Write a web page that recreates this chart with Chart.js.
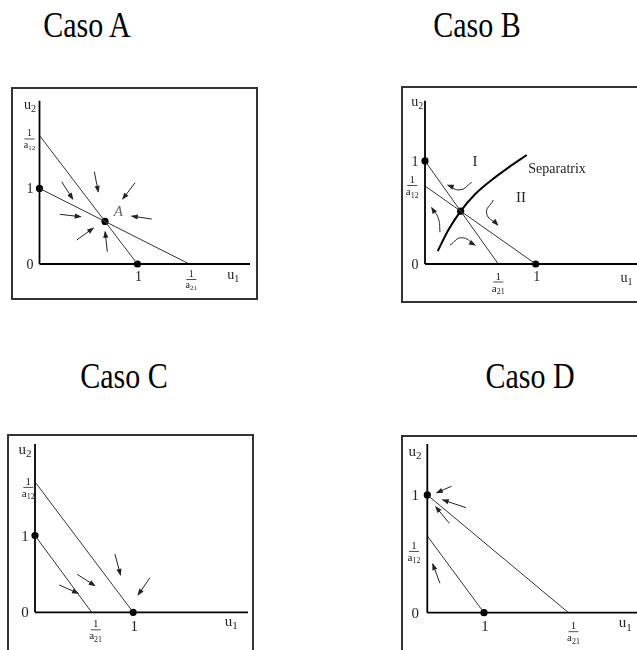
<!DOCTYPE html>
<html lang="es">
<head>
<meta charset="UTF-8" />
<title>Casos A - D</title>
<script src="https://cdn.jsdelivr.net/npm/chart.js"></script>
<style>
    html, body {
        margin: 0;
        padding: 0;
        background: #fff;
    }
    body {
        position: relative;
        width: 637px;
        height: 650px;
        overflow: hidden;
        font-family: 'Liberation Serif', 'Times New Roman', serif;
        color: #000;
    }
    .title {
        position: absolute;
        font-size: 30px;
        white-space: nowrap;
        transform: translate(-50%, -50%) scaleY(1.2);
    }
    canvas {
        position: absolute;
    }
</style>
</head>
<body>
<div class="title" style="left:87px;top:25px">Caso A</div>
<div class="title" style="left:477px;top:25px">Caso B</div>
<div class="title" style="left:124px;top:376px">Caso C</div>
<div class="title" style="left:530px;top:376px">Caso D</div>

<canvas id="caseA" width="247" height="213" style="left:11px;top:87px"></canvas>
<canvas id="caseB" width="260" height="217" style="left:401px;top:86px"></canvas>
<canvas id="caseC" width="247" height="230" style="left:7px;top:434px"></canvas>
<canvas id="caseD" width="260" height="230" style="left:401px;top:435px"></canvas>

<script>
// tick texts, same for every case
const xTickText = ['1', '1/a21'];
const yTickText = ['0', '1', '1/a12'];

// Caso A - stable coexistence
const aXTicks = [1, 1.53];
const aYTicks = [0, 1, 1.70];
const aRange = [2.15, 2.16];
const aIso1 = [[0, 1], [1.53, 0]];
const aIso2 = [[0, 1.70], [1, 0]];
const aEquil = [[0, 1], [1, 0], [0.669, 0.563]];
const aArrows = [
    [[0.227, 1.087], [0.34, 0.859]],
    [[0.56, 1.22], [0.60, 0.955]],
    [[0.976, 1.074], [0.85, 0.859]],
    [[0.21, 0.657], [0.421, 0.625]],
    [[1.147, 0.594], [0.943, 0.634]],
    [[0.38, 0.317], [0.55, 0.476]],
    [[0.693, 0.162], [0.67, 0.427]]
];
const aNotes = [{ text: 'A', x: 0.806, y: 0.69 }];

// Caso B - saddle with separatrix
const bXTicks = [1, 0.662];
const bYTicks = [0, 1, 0.757];
const bRange = [1.987, 1.585];
const bIso1 = [[0, 1], [0.662, 0]];
const bIso2 = [[0, 0.757], [1, 0]];
const bEquil = [[0, 1], [1, 0], [0.322, 0.513]];
const bSeparatrix = [[0.115, 0.126], [0.211, 0.33], [0.322, 0.513], [0.452, 0.677], [0.602, 0.816], [0.753, 0.935], [0.919, 1.058]];
const bArrows = [
    [[0.422, 0.793], [0.316, 0.72], [0.205, 0.765]],
    [[0.136, 0.308], [0.12, 0.444], [0.06, 0.547]],
    [[0.617, 0.621], [0.557, 0.492], [0.657, 0.379]],
    [[0.226, 0.184], [0.331, 0.255], [0.452, 0.184]]
];
const bNotes = [
    { text: 'Separatrix', x: 0.933, y: 0.919 },
    { text: 'I', x: 0.452, y: 0.993 },
    { text: 'II', x: 0.867, y: 0.638 }
];

// Caso C - u1 wins
const cXTicks = [1, 0.577];
const cYTicks = [0, 1, 1.70];
const cRange = [2.17, 2.194];
const cIso1 = [[0, 1], [0.577, 0]];
const cIso2 = [[0, 1.70], [1, 0]];
const cEquil = [[0, 1], [1, 0]];
const cArrows = [
    [[0.814, 0.76], [0.871, 0.487]],
    [[1.17, 0.45], [1.05, 0.226]],
    [[0.43, 0.495], [0.61, 0.347]],
    [[0.247, 0.356], [0.44, 0.247]]
];

// Caso D - u2 wins
const dXTicks = [1, 2.49];
const dYTicks = [0, 1, 0.652];
const dRange = [3.84, 1.433];
const dIso1 = [[0, 0.652], [1, 0]];
const dIso2 = [[0, 1], [2.49, 0]];
const dEquil = [[0, 1], [1, 0]];
const dArrows = [
    [[0.43, 1.075], [0.166, 1.019]],
    [[0.683, 0.892], [0.272, 0.958]],
    [[0.388, 0.76], [0.148, 0.90]],
    [[0.224, 0.25], [0.095, 0.414]]
];

const FONT = '"Liberation Serif", "Times New Roman", serif';
const pts = arr => arr.map(p => ({ x: p[0], y: p[1] }));

// text with a subscript, centred on x
function subText(ctx, base, sub, x, y, size) {
    const ss = Math.round(size * 0.72);
    ctx.font = size + 'px ' + FONT;
    const wb = ctx.measureText(base).width;
    ctx.font = ss + 'px ' + FONT;
    const ws = ctx.measureText(sub).width;
    const sx = x - (wb + ws) / 2;
    ctx.textAlign = 'left';
    ctx.textBaseline = 'middle';
    ctx.font = size + 'px ' + FONT;
    ctx.fillText(base, sx, y);
    ctx.font = ss + 'px ' + FONT;
    ctx.fillText(sub, sx + wb, y + size * 0.3);
}

function fraction(ctx, text, x, yBar, size) {
    const den = text.slice(2);
    ctx.font = size + 'px ' + FONT;
    ctx.textAlign = 'center';
    ctx.textBaseline = 'alphabetic';
    ctx.fillText('1', x, yBar - 2);
    ctx.beginPath();
    ctx.moveTo(x - 5, yBar + 0.5);
    ctx.lineTo(x + 5, yBar + 0.5);
    ctx.lineWidth = 0.8;
    ctx.stroke();
    subText(ctx, den[0], den.slice(1), x, yBar + size * 0.65, size);
}

const phasePlugin = {
    id: 'phase',
    afterDatasetsDraw(chart) {
        const ctx = chart.ctx;
        ctx.save();
        ctx.fillStyle = '#222';
        // arrowheads
        chart.data.datasets.forEach((ds, i) => {
            if (!ds.arrow) return;
            const els = chart.getDatasetMeta(i).data;
            const last = els[els.length - 1];
            let px = els[els.length - 2].x, py = els[els.length - 2].y;
            if (ds.tension && last.cp1x !== undefined) { px = last.cp1x; py = last.cp1y; }
            const ang = Math.atan2(last.y - py, last.x - px);
            ctx.save();
            ctx.translate(last.x, last.y);
            ctx.rotate(ang);
            ctx.beginPath();
            ctx.moveTo(1, 0);
            ctx.lineTo(-6, -2.6);
            ctx.lineTo(-6, 2.6);
            ctx.closePath();
            ctx.fill();
            ctx.restore();
        });
        ctx.restore();
    },
    afterDraw(chart, args, o) {
        const ctx = chart.ctx;
        const xs = chart.scales.x, ys = chart.scales.y;
        const x0 = xs.getPixelForValue(0), y0 = ys.getPixelForValue(0);
        const L = o.lay;
        ctx.save();
        // frame
        ctx.strokeStyle = '#333';
        ctx.lineWidth = 2;
        ctx.strokeRect(1, 1, chart.width - 2, chart.height - 2);
        ctx.fillStyle = '#222';
        ctx.strokeStyle = '#222';
        // y ticks
        o.yTicks.forEach((v, i) => {
            const t = yTickText[i];
            const py = ys.getPixelForValue(v);
            if (t.startsWith('1/')) {
                fraction(ctx, t, x0 + L.yFrac[0], py + L.yFrac[1], L.frac);
            } else {
                ctx.font = L.font + 'px ' + FONT;
                ctx.textAlign = 'center';
                ctx.textBaseline = 'middle';
                ctx.fillText(t, x0 + L.yNum, py + 1);
            }
        });
        // x ticks
        o.xTicks.forEach((v, i) => {
            const t = xTickText[i];
            const px = xs.getPixelForValue(v);
            if (t.startsWith('1/')) {
                fraction(ctx, t, px + L.xFrac[0], y0 + L.xFrac[1], L.frac);
            } else {
                ctx.font = L.font + 'px ' + FONT;
                ctx.textAlign = 'center';
                ctx.textBaseline = 'middle';
                ctx.fillText(t, px + 1, y0 + L.xNum);
            }
        });
        // axis names
        subText(ctx, 'u', '2', x0 + L.u2[0], chart.chartArea.top + L.u2[1], L.font);
        subText(ctx, 'u', '1', xs.getPixelForValue(o.u1x), y0 + L.u1dy, L.font);
        // notes
        (o.notes || []).forEach(n => {
            const px = xs.getPixelForValue(n.x), py = ys.getPixelForValue(n.y);
            ctx.textBaseline = 'middle';
            if (n.text === 'A') {
                ctx.font = 'italic 15px ' + FONT;
                ctx.fillStyle = '#666';
                ctx.textAlign = 'center';
            } else if (n.text === 'Separatrix') {
                ctx.font = '14px ' + FONT;
                ctx.fillStyle = '#222';
                ctx.textAlign = 'left';
            } else {
                ctx.font = '15px ' + FONT;
                ctx.fillStyle = '#222';
                ctx.textAlign = 'center';
            }
            ctx.fillText(n.text, px, py);
        });
        ctx.restore();
    }
};

function lineSet(data, width, color) {
    return {
        data: pts(data),
        showLine: true,
        borderColor: color,
        borderWidth: width,
        pointRadius: 0,
        clip: false
    };
}

function makePanel(id, p) {
    const datasets = [];
    datasets.push(lineSet([[0, 0], [p.range[0], 0]], 1.8, '#000'));
    datasets.push(lineSet([[0, 0], [0, p.range[1]]], 1.8, '#000'));
    p.iso.forEach(l => datasets.push(lineSet(l, 1, '#333')));
    if (p.sep) datasets.push(Object.assign(lineSet(p.sep, 2, '#000'), { cubicInterpolationMode: 'monotone' }));
    p.arrows.forEach(a => datasets.push(Object.assign(lineSet(a, 1, '#222'),
        { arrow: true, tension: a.length > 2 ? 0.5 : 0 })));
    datasets.push({
        data: pts(p.equil),
        pointRadius: 3.6,
        pointBackgroundColor: '#000',
        pointBorderWidth: 0,
        clip: false
    });
    new Chart(document.getElementById(id), {
        type: 'scatter',
        data: { datasets: datasets },
        options: {
            responsive: false,
            animation: false,
            events: [],
            layout: { padding: p.lay.pad },
            scales: {
                x: { type: 'linear', display: false, min: 0, max: p.range[0] },
                y: { type: 'linear', display: false, min: 0, max: p.range[1] }
            },
            plugins: {
                legend: { display: false },
                tooltip: { enabled: false },
                phase: {
                    xTicks: p.xTicks, yTicks: p.yTicks, u1x: p.u1x,
                    notes: p.notes, lay: p.lay
                }
            }
        },
        plugins: [phasePlugin]
    });
}

makePanel('caseA', {
    range: aRange, iso: [aIso1, aIso2], equil: aEquil, arrows: aArrows,
    xTicks: aXTicks, yTicks: aYTicks, notes: aNotes, u1x: 1.98,
    lay: { pad: { left: 28.5, top: 13.7, right: 8, bottom: 36 }, font: 14, frac: 10,
        yNum: -9.5, xNum: 13, yFrac: [-10, 3], xFrac: [2, 15], u2: [-9.5, 4.3], u1dy: 11 }
});
makePanel('caseB', {
    range: bRange, iso: [bIso1, bIso2], equil: bEquil, arrows: bArrows, sep: bSeparatrix,
    xTicks: bXTicks, yTicks: bYTicks, notes: bNotes, u1x: 1.82,
    lay: { pad: { left: 24, top: 14.7, right: 16, bottom: 39 }, font: 14, frac: 11,
        yNum: -10, xNum: 13.4, yFrac: [-12.7, -1], xFrac: [0, 17.5], u2: [-7.7, 1.5], u1dy: 14 }
});
makePanel('caseC', {
    range: cRange, iso: [cIso1, cIso2], equil: cEquil, arrows: cArrows,
    xTicks: cXTicks, yTicks: cYTicks, u1x: 2.0,
    lay: { pad: { left: 28, top: 10, right: 6, bottom: 51.7 }, font: 15, frac: 11,
        yNum: -10, xNum: 14.4, yFrac: [-6.7, 5], xFrac: [4, 17], u2: [-10, 6], u1dy: 9.4 }
});
makePanel('caseD', {
    range: dRange, iso: [dIso1, dIso2], equil: dEquil, arrows: dArrows,
    xTicks: dXTicks, yTicks: dYTicks, u1x: 3.49,
    lay: { pad: { left: 26.3, top: 9, right: 16, bottom: 52.3 }, font: 15, frac: 11,
        yNum: -12, xNum: 14, yFrac: [-13.3, 15], xFrac: [5, 18.5], u2: [-12.3, 7.7], u1dy: 10.7 }
});
</script>
</body>
</html>
